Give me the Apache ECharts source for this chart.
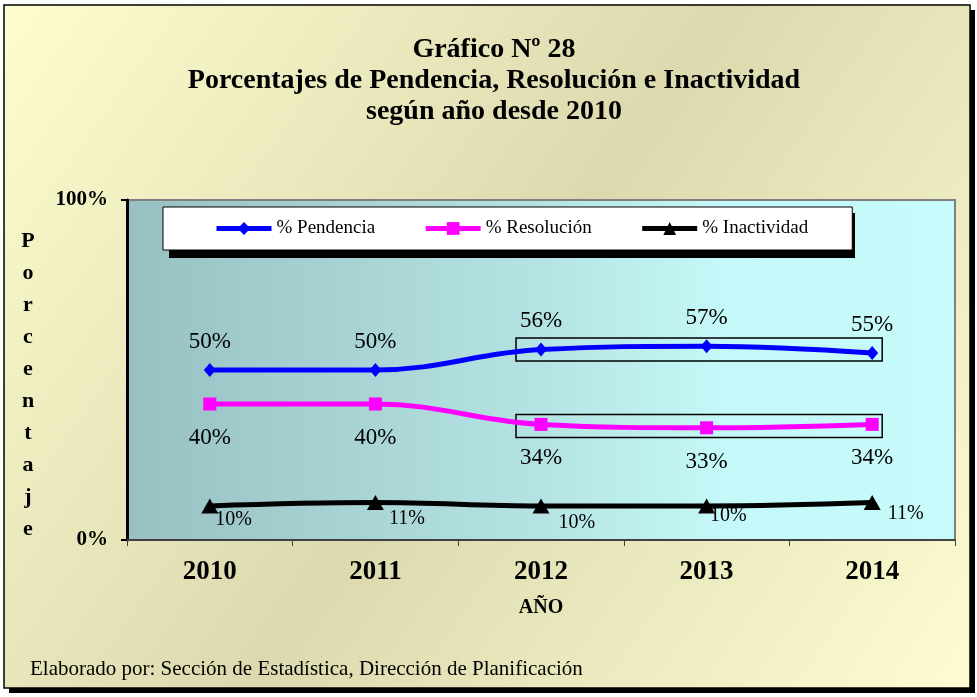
<!DOCTYPE html>
<html>
<head>
<meta charset="utf-8">
<title>Gráfico Nº 28</title>
<script src="https://cdn.jsdelivr.net/npm/echarts@6/dist/echarts.min.js"></script>
<style>
  html, body { margin: 0; padding: 0; background: #fff; }
  #chart { width: 977px; height: 697px; }
</style>
</head>
<body>
<div id="chart"></div>
<script>
// datos del gráfico
var years = ["2010", "2011", "2012", "2013", "2014"];
var pendencia = [50, 50, 56, 57, 55];
var resolucion = [40, 40, 34, 33, 34];
var inactividad = [10, 11, 10, 10, 11];
var yTicks = [0, 100];

var serif = "'Liberation Serif', 'Times New Roman', serif";
// desplazamiento de las etiquetas de inactividad (como en el original)
var inactLabelShift = [[-8, 14], [0, 16], [4, 17], [-10, 10], [2, 11]];

var myChart = echarts.init(document.getElementById("chart"));

var option = {
  backgroundColor: "#ffffff",
  animation: false,
  title: {
    text: "Gráfico Nº 28\nPorcentajes de Pendencia, Resolución e Inactividad\nsegún año desde 2010",
    left: 489,
    top: 29,
    textAlign: "center",
    textStyle: {
      fontFamily: serif,
      fontSize: 28,
      fontWeight: "bold",
      color: "#000",
      lineHeight: 31
    }
  },
  legend: {
    top: 207,
    left: 163,
    padding: [12, 44, 12, 51],
    itemGap: 48,
    itemWidth: 55,
    itemHeight: 16,
    backgroundColor: "#ffffff",
    borderColor: "#000",
    borderWidth: 1,
    lineStyle: { width: 5 },
    textStyle: { fontFamily: serif, fontSize: 19, color: "#000" },
    data: ["% Pendencia", "% Resolución", "% Inactividad"],
    z: 5
  },
  grid: {
    left: 127,
    right: 22,
    top: 200,
    bottom: 157,
    show: true,
    borderColor: "#808080",
    borderWidth: 2,
    backgroundColor: new echarts.graphic.LinearGradient(0, 0, 1, 0, [
      { offset: 0, color: "#98c0c2" },
      { offset: 0.5, color: "#b5e3e3" },
      { offset: 0.72, color: "#c5f8f8" },
      { offset: 1, color: "#c7fbfb" }
    ])
  },
  xAxis: {
    type: "category",
    data: years,
    boundaryGap: true,
    name: "AÑO",
    nameLocation: "middle",
    nameGap: 58,
    nameTextStyle: { fontFamily: serif, fontSize: 20, fontWeight: "bold", color: "#000" },
    axisLine: { lineStyle: { color: "#404040", width: 2 } },
    axisTick: { show: true, length: 6, lineStyle: { color: "#404040", width: 1 } },
    axisLabel: {
      margin: 19,
      fontFamily: serif,
      fontSize: 27,
      fontWeight: "bold",
      color: "#000"
    },
    splitLine: { show: false }
  },
  yAxis: {
    type: "value",
    min: yTicks[0],
    max: yTicks[1],
    interval: yTicks[1] - yTicks[0],
    axisLine: { show: true, lineStyle: { color: "#000", width: 3 } },
    axisTick: { show: true, length: 6, lineStyle: { color: "#000", width: 2 } },
    axisLabel: {
      margin: 19,
      fontFamily: serif,
      fontSize: 21,
      fontWeight: "bold",
      color: "#000",
      formatter: "{value}%"
    },
    splitLine: { show: false }
  },
  series: [
    {
      name: "% Pendencia",
      type: "line",
      smooth: 0.4,
      data: pendencia,
      symbol: "diamond",
      symbolSize: [12, 14],
      color: "#0000ff",
      lineStyle: { width: 5, color: "#0000ff" },
      itemStyle: { color: "#0000ff" },
      label: {
        show: true,
        position: "top",
        distance: 10,
        formatter: "{c}%",
        fontFamily: serif,
        fontSize: 23,
        color: "#000"
      },
      z: 3
    },
    {
      name: "% Resolución",
      type: "line",
      smooth: 0.4,
      data: resolucion,
      symbol: "rect",
      symbolSize: 13,
      color: "#ff00ff",
      lineStyle: { width: 5, color: "#ff00ff" },
      itemStyle: { color: "#ff00ff" },
      label: {
        show: true,
        position: "bottom",
        distance: 16,
        formatter: "{c}%",
        fontFamily: serif,
        fontSize: 23,
        color: "#000"
      },
      z: 3
    },
    {
      name: "% Inactividad",
      type: "line",
      smooth: 0.4,
      data: inactividad.map(function (v, i) {
        return {
          value: v,
          label: { offset: inactLabelShift[i] }
        };
      }),
      symbol: "triangle",
      symbolSize: [17, 15],
      color: "#000000",
      lineStyle: { width: 5, color: "#000000" },
      itemStyle: { color: "#000000" },
      label: {
        show: true,
        position: "right",
        distance: 5,
        formatter: "{c}%",
        fontFamily: serif,
        fontSize: 20,
        color: "#000"
      },
      z: 3
    }
  ]
};

myChart.setOption(option);

// recuadros de 2012 a 2014
function boxAround(values) {
  var x0 = myChart.convertToPixel({ xAxisIndex: 0 }, years[2]) - 25;
  var x1 = myChart.convertToPixel({ xAxisIndex: 0 }, years[4]) + 10;
  var part = values.slice(2);
  var yTop = myChart.convertToPixel({ yAxisIndex: 0 }, Math.max.apply(null, part));
  var yBot = myChart.convertToPixel({ yAxisIndex: 0 }, Math.min.apply(null, part));
  var mid = (yTop + yBot) / 2;
  return {
    type: "rect",
    shape: { x: x0, y: mid - 11.5, width: x1 - x0, height: 23 },
    style: { fill: "none", stroke: "#000", lineWidth: 1.5 },
    z: 2
  };
}

myChart.setOption({
  graphic: [
    // sombra del marco
    {
      type: "rect",
      z: -101,
      shape: { x: 9, y: 10, width: 966, height: 683 },
      style: { fill: "#000" }
    },
    // marco con fondo degradado
    {
      type: "rect",
      z: -100,
      shape: { x: 4, y: 5, width: 966, height: 683 },
      style: {
        fill: new echarts.graphic.LinearGradient(0, 0, 1, 1, [
          { offset: 0, color: "#fdfdcf" },
          { offset: 0.5, color: "#dcd9ae" },
          { offset: 1, color: "#fdfdd1" }
        ]),
        stroke: "#000",
        lineWidth: 1.5
      }
    },
    // sombra de la leyenda
    {
      type: "rect",
      z: 4,
      shape: { x: 169, y: 213, width: 686, height: 45 },
      style: { fill: "#000" }
    },
    // título del eje vertical, letra por letra
    {
      type: "text",
      x: 28,
      y: 385,
      style: {
        text: "P\no\nr\nc\ne\nn\nt\na\nj\ne",
        fontFamily: serif,
        fontSize: 22,
        fontWeight: "bold",
        lineHeight: 32,
        align: "center",
        verticalAlign: "middle",
        fill: "#000"
      }
    },
    {
      type: "text",
      left: 30,
      top: 659,
      style: {
        text: "Elaborado por: Sección de Estadística, Dirección de Planificación",
        fontFamily: serif,
        fontSize: 21,
        fill: "#000"
      }
    },
    boxAround(pendencia),
    boxAround(resolucion)
  ]
});

window.addEventListener("resize", function () {
  myChart.resize();
});
</script>
</body>
</html>
